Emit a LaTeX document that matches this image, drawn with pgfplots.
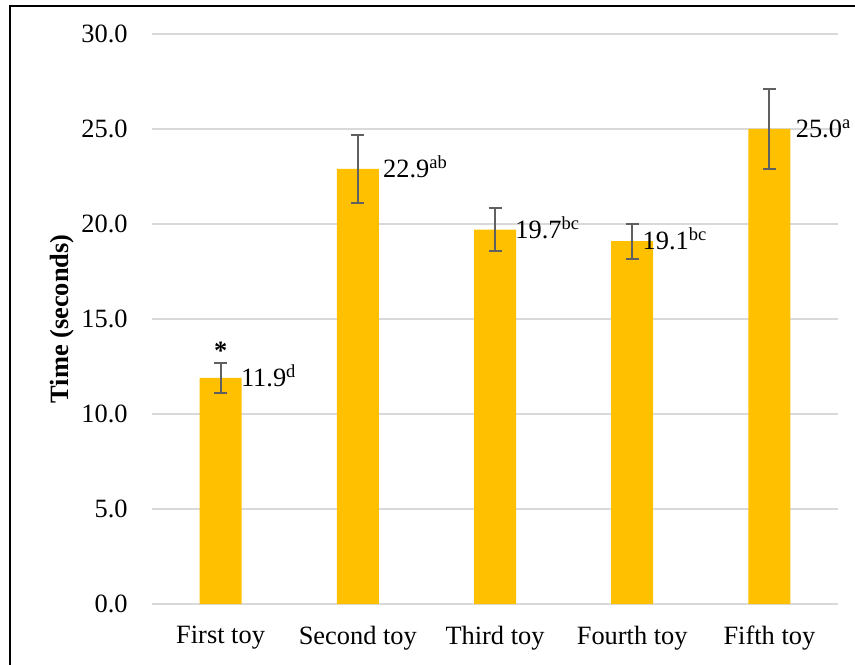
\documentclass[border=0pt]{standalone}
\usepackage{fontspec}
\setmainfont{Liberation Serif}
\usepackage{pgfplots}
\pgfplotsset{compat=1.18}
\definecolor{baryellow}{HTML}{FFC000}
\definecolor{gridgray}{HTML}{D9D9D9}
\definecolor{errgray}{HTML}{606060}
\begin{document}
\begin{tikzpicture}[font=\fontsize{13.2}{15.8}\selectfont]
\useasboundingbox (0,0) rectangle (427.5pt,332pt);
\draw[line width=0.9pt, black] (5pt,-10pt) -- (5pt,329.1pt) -- (440pt,329.1pt);
\begin{axis}[
  at={(76pt,30pt)}, anchor=south west,
  scale only axis, width=343pt, height=285pt,
  xmin=-0.5, xmax=4.5, ymin=0, ymax=30,
  xtick={0,1,2,3,4},
  xticklabels={First toy, Second toy, Third toy, Fourth toy, Fifth toy},
  ytick={0,5,10,15,20,25,30},
  /pgf/number format/fixed,
  /pgf/number format/fixed zerofill,
  /pgf/number format/precision=1,
  /pgf/number format/assume math mode=true,
  yticklabel style={inner sep=0pt, xshift=-12pt},
  xticklabel style={inner sep=0pt, yshift=-11pt},
  major tick length=0pt,
  axis line style={draw=none},
  ymajorgrids, grid style={gridgray, line width=0.75pt},
  ylabel={\textbf{Time (seconds)}},
  every axis y label/.style={at={(axis description cs:0,0.5)}, rotate=90, anchor=center, yshift=45pt},
  clip=false,
]
\addplot[ybar, bar width=21pt, fill=baryellow, draw=none,
  error bars/.cd, y dir=both, y explicit,
  error bar style={errgray, line width=1pt},
  error mark options={errgray, rotate=90, mark size=3.25pt, line width=1pt}]
  table[x=x, y=y, y error=e] {
  x y e
  0 11.9 0.8
  1 22.9 1.8
  2 19.7 1.13
  3 19.1 0.92
  4 25.0 2.1
  };
\node[anchor=base west, inner sep=0pt, xshift=10pt, yshift=-4.3pt] at (axis cs:0,11.9) {11.9\textsuperscript{d}};
\node[anchor=base west, inner sep=0pt, xshift=12.5pt, yshift=-4.3pt] at (axis cs:1,22.9) {22.9\textsuperscript{ab}};
\node[anchor=base west, inner sep=0pt, xshift=10pt, yshift=-4.3pt] at (axis cs:2,19.7) {19.7\textsuperscript{bc}};
\node[anchor=base west, inner sep=0pt, xshift=5pt, yshift=-4.3pt] at (axis cs:3,19.1) {19.1\textsuperscript{bc}};
\node[anchor=base west, inner sep=0pt, xshift=13pt, yshift=-4.3pt] at (axis cs:4,25.0) {25.0\textsuperscript{a}};
\node[anchor=base, inner sep=0pt] at (axis cs:0,12.86) {\textbf{*}};
\end{axis}
\end{tikzpicture}
\end{document}
